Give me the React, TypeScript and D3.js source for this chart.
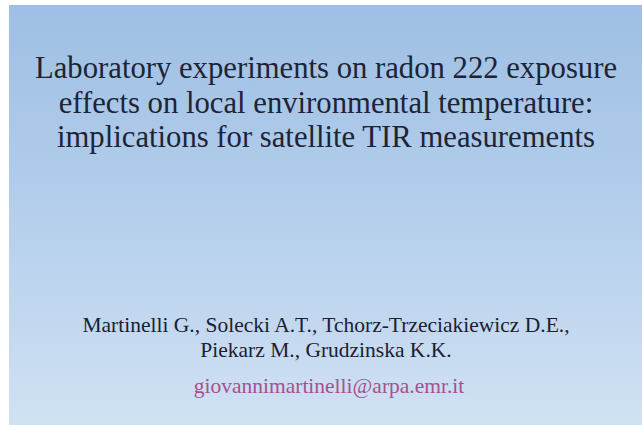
import React from "react";
import * as d3 from "d3";

const titleLines = [
  "Laboratory experiments on radon 222 exposure",
  "effects on local environmental temperature:",
  "implications for satellite TIR measurements",
];
const authorLines = [
  "Martinelli G., Solecki A.T., Tchorz-Trzeciakiewicz D.E.,",
  "Piekarz M., Grudzinska K.K.",
];
const emailLines = ["giovannimartinelli@arpa.emr.it"];

const W = 642;
const H = 425;
const SERIF = "Liberation Serif, Tinos, Times New Roman, Times, DejaVu Serif, serif";

export default function App() {
  const slide = { x: 9, y: 5, w: W - 9, h: H - 5 };
  const cx = 326;
  const titleY = d3.scaleLinear().domain([0, 2]).range([78, 147]);
  const authorY = d3.scaleLinear().domain([0, 1]).range([332, 357]);
  const stops = [
    { o: 0, c: "#9ebfe3" },
    { o: 0.45, c: "#b2cdeb" },
    { o: 1, c: "#d0e1f3" },
  ];
  return (
    <svg
      width={W}
      height={H}
      style={{ position: "absolute", left: 0, top: 0, display: "block" }}
    >
      <defs>
        <linearGradient id="bg" x1="0" y1="0" x2="0" y2="1">
          {stops.map((s, i) => (
            <stop key={i} offset={s.o} stopColor={s.c} />
          ))}
        </linearGradient>
      </defs>
      <rect x={0} y={0} width={W} height={H} fill="#ffffff" />
      <rect x={slide.x} y={slide.y} width={slide.w} height={slide.h} fill="url(#bg)" />
      {titleLines.map((t, i) => (
        <text
          key={t}
          x={cx}
          y={titleY(i)}
          textAnchor="middle"
          style={{ fontFamily: SERIF, fontSize: "30.7px" }}
          fill="#1c2436"
        >
          {t}
        </text>
      ))}
      {authorLines.map((t, i) => (
        <text
          key={t}
          x={cx}
          y={authorY(i)}
          textAnchor="middle"
          style={{ fontFamily: SERIF, fontSize: "21.5px" }}
          fill="#1c2030"
        >
          {t}
        </text>
      ))}
      {emailLines.map((t) => (
        <text
          key={t}
          x={cx + 3}
          y={393}
          textAnchor="middle"
          style={{ fontFamily: SERIF, fontSize: "21.5px" }}
          fill="#a8508c"
        >
          {t}
        </text>
      ))}
    </svg>
  );
}
